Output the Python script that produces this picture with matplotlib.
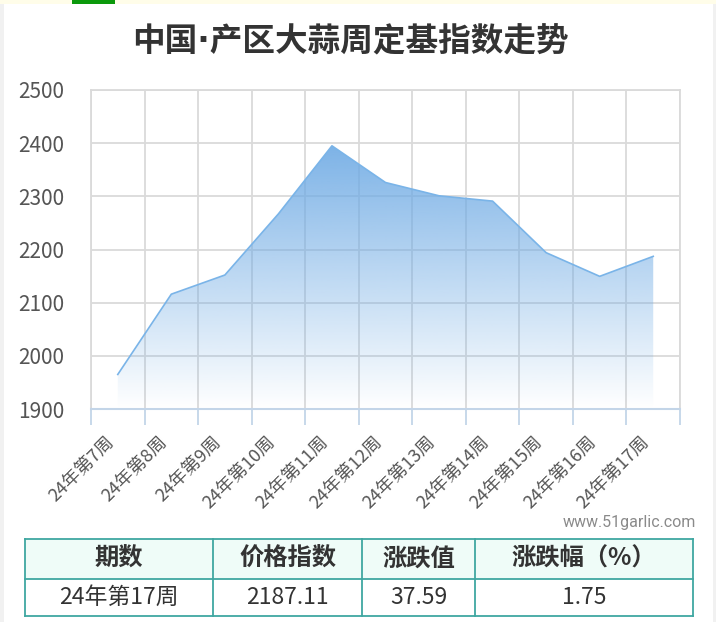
import numpy as np
import matplotlib
matplotlib.use("Agg")
import matplotlib.pyplot as plt
from matplotlib.colors import LinearSegmentedColormap
from matplotlib.patches import Rectangle
from matplotlib.lines import Line2D

plt.rcParams['font.family'] = ['Noto Sans CJK SC', 'DejaVu Sans']

# ---- data ----
title = "中国·产区大蒜周定基指数走势"
weeks = ["24年第7周", "24年第8周", "24年第9周", "24年第10周", "24年第11周",
         "24年第12周", "24年第13周", "24年第14周", "24年第15周", "24年第16周",
         "24年第17周"]
index_values = [1965, 2116, 2152, 2267, 2395, 2326, 2301, 2291, 2194, 2149.52, 2187.11]
y_ticks = [1900, 2000, 2100, 2200, 2300, 2400, 2500]
table_header = ["期数", "价格指数", "涨跌值", "涨跌幅（%）"]
table_row = ["24年第17周", "2187.11", "37.59", "1.75"]
watermark = "www.51garlic.com"

W, H = 716, 622
fig = plt.figure(figsize=(W / 100, H / 100), dpi=100)
fig.patch.set_facecolor("white")


def fx(x):
    return x / W


def fy(y):
    return 1 - y / H


# decorations
fig.patches.append(Rectangle((0, fy(4)), 1, 4 / H, transform=fig.transFigure,
                             facecolor="#fffde9", edgecolor="none", zorder=0))
fig.patches.append(Rectangle((fx(72), fy(4)), 43 / W, 4 / H, transform=fig.transFigure,
                             facecolor="#0b990b", edgecolor="none", zorder=1))
fig.patches.append(Rectangle((0, 0), 4 / W, fy(4), transform=fig.transFigure,
                             facecolor="#f1f1f1", edgecolor="none", zorder=0))
fig.patches.append(Rectangle((fx(713), 0), 3 / W, fy(4), transform=fig.transFigure,
                             facecolor="#f1f1f1", edgecolor="none", zorder=0))

fig.text(fx(350), fy(42), title, ha="center", va="center", fontsize=23.5,
         fontweight="bold", color="#333333",
         family=["DejaVu Sans", "Noto Sans CJK SC"])

# ---- chart ----
left, right, top, bottom = 91, 680, 90, 409
ax = fig.add_axes([fx(left), fy(bottom), (right - left) / W, (bottom - top) / H])
x = np.arange(len(weeks))
y = np.array(index_values, dtype=float)
ax.set_xlim(-0.5, len(weeks) - 0.5)
ax.set_ylim(1900, 2500)

# gradient fill
base = (110 / 255, 170 / 255, 228 / 255)
cmap = LinearSegmentedColormap.from_list("g", [(*base, 0.0), (*base, 0.9)])
poly = ax.fill_between(x, y, 1900, color="none", linewidth=0)
grad = np.linspace(0, 1, 256).reshape(-1, 1)
im = ax.imshow(grad, cmap=cmap, origin="lower", aspect="auto",
               extent=[-0.5, len(weeks) - 0.5, 1900, y.max()], zorder=2)
im.set_clip_path(poly.get_paths()[0], transform=ax.transData)
ax.plot(x, y, color="#7ab4e8", linewidth=1.2, zorder=3)

# grid
ax.set_yticks(y_ticks)
ax.set_xticks(x)
ax.set_xticks(np.arange(-0.5, len(weeks)), minor=True)
ax.grid(True, which="major", axis="y", color="#dadada", linewidth=1.3, zorder=1)
ax.grid(True, which="minor", axis="x", color="#dadada", linewidth=1.3, zorder=1)
ax.set_axisbelow(True)
for s in ["top", "right", "left"]:
    ax.spines[s].set_color("#dadada")
    ax.spines[s].set_linewidth(1.3)
ax.spines["bottom"].set_color("#c3d5e8")
ax.spines["bottom"].set_linewidth(1.5)
ax.spines["bottom"].set_zorder(4)

ax.tick_params(axis="y", length=0, pad=19, labelsize=15, labelcolor="#555555")
ax.tick_params(axis="x", which="major", length=0, pad=17, labelsize=13,
               labelcolor="#555555")
ax.tick_params(axis="x", which="minor", length=11.5, width=1.3, color="#c3d5e8")
ax.set_xticklabels(weeks, rotation=45, ha="right", va="top",
                   rotation_mode="default")
ax.set_facecolor("white")

fig.text(fx(696), fy(523), watermark, ha="right", va="center", fontsize=11.5,
         color="#8a8a8a", family=["Roboto", "DejaVu Sans"])

# ---- table ----
cols = [25, 213, 362, 475, 693]
rows = [539, 579, 616]
border = "#3fa7a1"
fig.patches.append(Rectangle((fx(cols[0]), fy(rows[1])), (cols[-1] - cols[0]) / W,
                             (rows[1] - rows[0]) / H, transform=fig.transFigure,
                             facecolor="#effcf8", edgecolor="none", zorder=1))
for r in rows:
    fig.lines.append(Line2D([fx(cols[0]), fx(cols[-1])], [fy(r), fy(r)],
                            transform=fig.transFigure, color=border, linewidth=1.3))
for c in cols:
    fig.lines.append(Line2D([fx(c), fx(c)], [fy(rows[0]), fy(rows[-1])],
                            transform=fig.transFigure, color=border, linewidth=1.3))
for i in range(4):
    cx = (cols[i] + cols[i + 1]) / 2
    fig.text(fx(cx), fy((rows[0] + rows[1]) / 2), table_header[i], ha="center",
             va="center", fontsize=17.5, fontweight="bold", color="#333333")
    fig.text(fx(cx), fy((rows[1] + rows[2]) / 2), table_row[i], ha="center",
             va="center", fontsize=16.5, color="#333333")

fig.savefig("out.png", dpi=100)
